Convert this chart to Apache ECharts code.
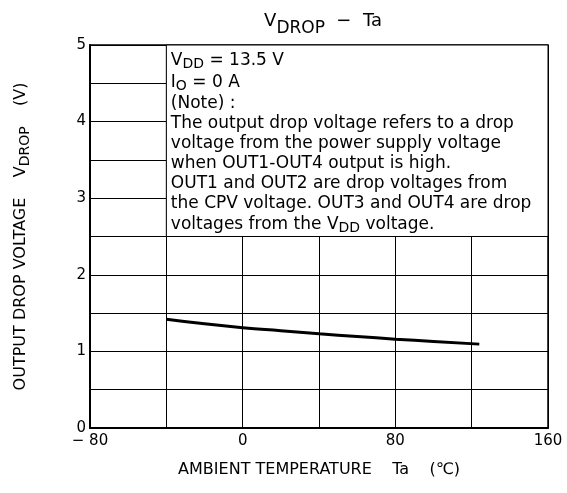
<!DOCTYPE html>
<html>
<head>
<meta charset="utf-8">
<script src="https://cdn.jsdelivr.net/npm/echarts@6/dist/echarts.min.js"></script>
<style>
  html, body { margin: 0; padding: 0; background: #fff; }
  #chart_vdrop { width: 567px; height: 493px; }
</style>
</head>
<body>
<div id="chart_vdrop"></div>
<script>
// Ta (°C) and VDROP (V)
var ta = [-40, -20, 0, 20, 40, 60, 80, 100, 124];
var vdrop = [1.42, 1.36, 1.31, 1.27, 1.23, 1.195, 1.16, 1.13, 1.095];

// tick labels, one per split line (minor lines get an empty label)
var xLabels = ['\u2212 80', '', '0', '', '80', '', '160'];
var yLabels = ['0', '', '1', '', '2', '', '3', '', '4', '', '5'];

// note box text (rich format, s = subscript)
var noteLines = [
    '{t|V}{s|DD}{t| = 13.5 V}',
    '{t|I}{s|O}{t| = 0 A}',
    '{t|(Note) :}',
    '{t|The output drop voltage refers to a drop}',
    '{t|voltage from the power supply voltage}',
    '{t|when OUT1-OUT4 output is high.}',
    '{t|OUT1 and OUT2 are drop voltages from}',
    '{t|the CPV voltage. OUT3 and OUT4 are drop}',
    '{t|voltages from the V}{s|DD}{t| voltage.}'
];
var noteBox = [[-40, 2.5], [160, 5]];

var font = 'DejaVu Sans';
var chart_vdrop = echarts.init(document.getElementById('chart_vdrop'));
var data = ta.map(function (t, i) { return [t, vdrop[i]]; });

chart_vdrop.setOption({
    animation: false,
    title: {
        text: '{t|V}{s|DROP}{t|  \u2212  Ta}',
        left: 318,
        textAlign: 'center',
        top: 1,
        textStyle: {
            rich: {
                t: {fontFamily: font, fontSize: 18, fontWeight: 'normal', color: '#000', lineHeight: 30},
                s: {fontFamily: font, fontSize: 17, fontWeight: 'normal', color: '#000', padding: [14, 0, 0, 0]}
            }
        }
    },
    grid: {
        left: 90,
        right: 19,
        top: 45,
        bottom: 65,
        outerBoundsMode: 'none',
        show: true,
        borderColor: '#000',
        borderWidth: 1.5
    },
    xAxis: {
        type: 'value',
        min: -80,
        max: 160,
        interval: 40,
        name: 'AMBIENT TEMPERATURE    Ta    (\u2103)',
        nameLocation: 'middle',
        nameGap: 34,
        nameTextStyle: {fontFamily: font, fontSize: 16, color: '#000'},
        axisLine: {onZero: false, lineStyle: {color: '#000', width: 2}},
        axisTick: {show: false},
        axisLabel: {
            fontFamily: font, fontSize: 15, color: '#000', margin: 6,
            formatter: function (v, idx) { return xLabels[idx]; }
        },
        splitLine: {lineStyle: {color: '#000', width: 1}}
    },
    yAxis: {
        type: 'value',
        min: 0,
        max: 5,
        interval: 0.5,
        name: '{t|OUTPUT DROP VOLTAGE    V}{s|DROP}{t|    (V)}',
        nameLocation: 'middle',
        nameGap: 58,
        nameRotate: 90,
        nameTextStyle: {
            rich: {
                t: {fontFamily: font, fontSize: 16, color: '#000', lineHeight: 22},
                s: {fontFamily: font, fontSize: 14, color: '#000', padding: [8, 0, 0, 0]}
            }
        },
        axisLine: {onZero: false, lineStyle: {color: '#000', width: 2}},
        axisTick: {show: false},
        axisLabel: {
            fontFamily: font, fontSize: 15, color: '#000', margin: 4,
            formatter: function (v, idx) { return yLabels[idx]; }
        },
        splitLine: {lineStyle: {color: '#000', width: 1}}
    },
    series: [
        {
            type: 'line',
            data: data,
            smooth: true,
            showSymbol: false,
            lineStyle: {color: '#000', width: 3},
            markArea: {
                silent: true,
                itemStyle: {color: '#fff', borderColor: '#000', borderWidth: 1},
                label: {
                    show: true,
                    position: 'insideTopLeft',
                    distance: 5,
                    formatter: noteLines.join('\n'),
                    rich: {
                        t: {fontFamily: font, fontSize: 17, color: '#000', lineHeight: 20},
                        s: {fontFamily: font, fontSize: 14, color: '#000', padding: [8, 0, 0, 0]}
                    }
                },
                data: [[{coord: noteBox[0]}, {coord: noteBox[1]}]]
            }
        }
    ]
});
</script>
</body>
</html>
